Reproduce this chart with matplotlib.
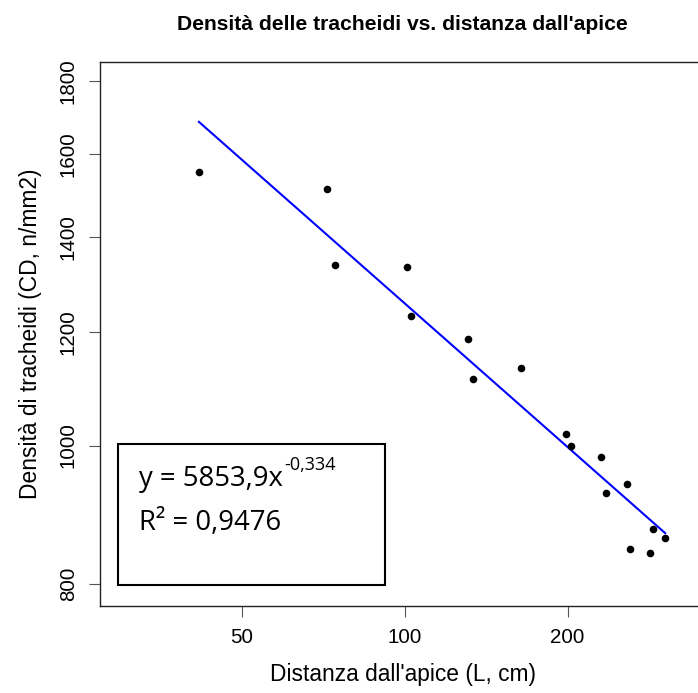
import matplotlib
matplotlib.use("Agg")
import matplotlib.pyplot as plt
import numpy as np
from matplotlib.patches import Rectangle

# Data
dist_L = [41.6, 71.8, 74.3, 100.9, 102.8, 130.6, 133.4, 163.8, 198.4, 202.5,
          230.1, 235.2, 257.6, 260.9, 284.1, 287.1, 303.0]
dens_CD = [1555, 1512, 1338, 1334, 1232, 1187, 1113, 1133, 1018, 1000,
           982, 927, 940, 847, 841, 874, 862]
fit_a = 5853.9
fit_b = -0.334
r2_text = "0,9476"
x_ticks = [50, 100, 200]
y_ticks = [800, 1000, 1200, 1400, 1600, 1800]

W, H = 698, 693
fig = plt.figure(figsize=(W / 100, H / 100), dpi=100)
plt.rcParams['font.family'] = ['Liberation Sans', 'DejaVu Sans']

left, right, top, bottom = 100, 705, 62, 606
ax = fig.add_axes([left / W, 1 - bottom / H, (right - left) / W, (bottom - top) / H])
ax.set_xscale('log')
ax.set_yscale('log')
ax.set_xlim(27.3, 359)
ax.set_ylim(772, 1856)

ax.scatter(dist_L, dens_CD, s=30, color='black', zorder=3, linewidths=0)
xf = np.array([min(dist_L), max(dist_L)])
ax.plot(xf, fit_a * xf ** fit_b, color='#0000ff', lw=1.5, zorder=2)

ax.minorticks_off()
ax.set_xticks(x_ticks)
ax.set_xticklabels([str(v) for v in x_ticks])
ax.set_yticks(y_ticks)
ax.set_yticklabels([str(v) for v in y_ticks], rotation=90, va='center')
ax.tick_params(axis='both', which='major', length=8, width=0.8, color='#555555',
               labelsize=14.8, pad=8)
for sp in ax.spines.values():
    sp.set_color('#222222')
    sp.set_linewidth(1.0)
ax.spines['right'].set_visible(False)

ax.set_xlabel("Distanza dall'apice (L, cm)", fontsize=16.4, labelpad=11)
ax.set_ylabel("Densità di tracheidi (CD, n/mm2)", fontsize=16.4, labelpad=12)
fig.text(402.5 / W, 1 - 24.5 / H, "Densità delle tracheidi vs. distanza dall'apice",
         ha='center', va='center', fontsize=15.2, fontweight='bold')

# Legend box (trendline label)
box = Rectangle((118 / W, 1 - 585 / H), (385 - 118) / W, (585 - 444) / H,
                transform=fig.transFigure, fill=False, edgecolor='black', lw=1.5, zorder=5)
fig.add_artist(box)
eq_font = ['Open Sans', 'DejaVu Sans']
t1 = fig.text(139 / W, 1 - 486 / H, "y = 5853,9x", family=eq_font, fontsize=19.8,
              ha='left', va='baseline')
fig.text(139 / W, 1 - 530 / H, "R² = " + r2_text, family=eq_font, fontsize=19.8,
         ha='left', va='baseline')
fig.canvas.draw()
bb = t1.get_window_extent()
fig.text(bb.x1 / W + 1 / W, 1 - 470 / H, "-0,334", family=eq_font, fontsize=13,
         ha='left', va='baseline')

fig.savefig("out.png", dpi=100)
